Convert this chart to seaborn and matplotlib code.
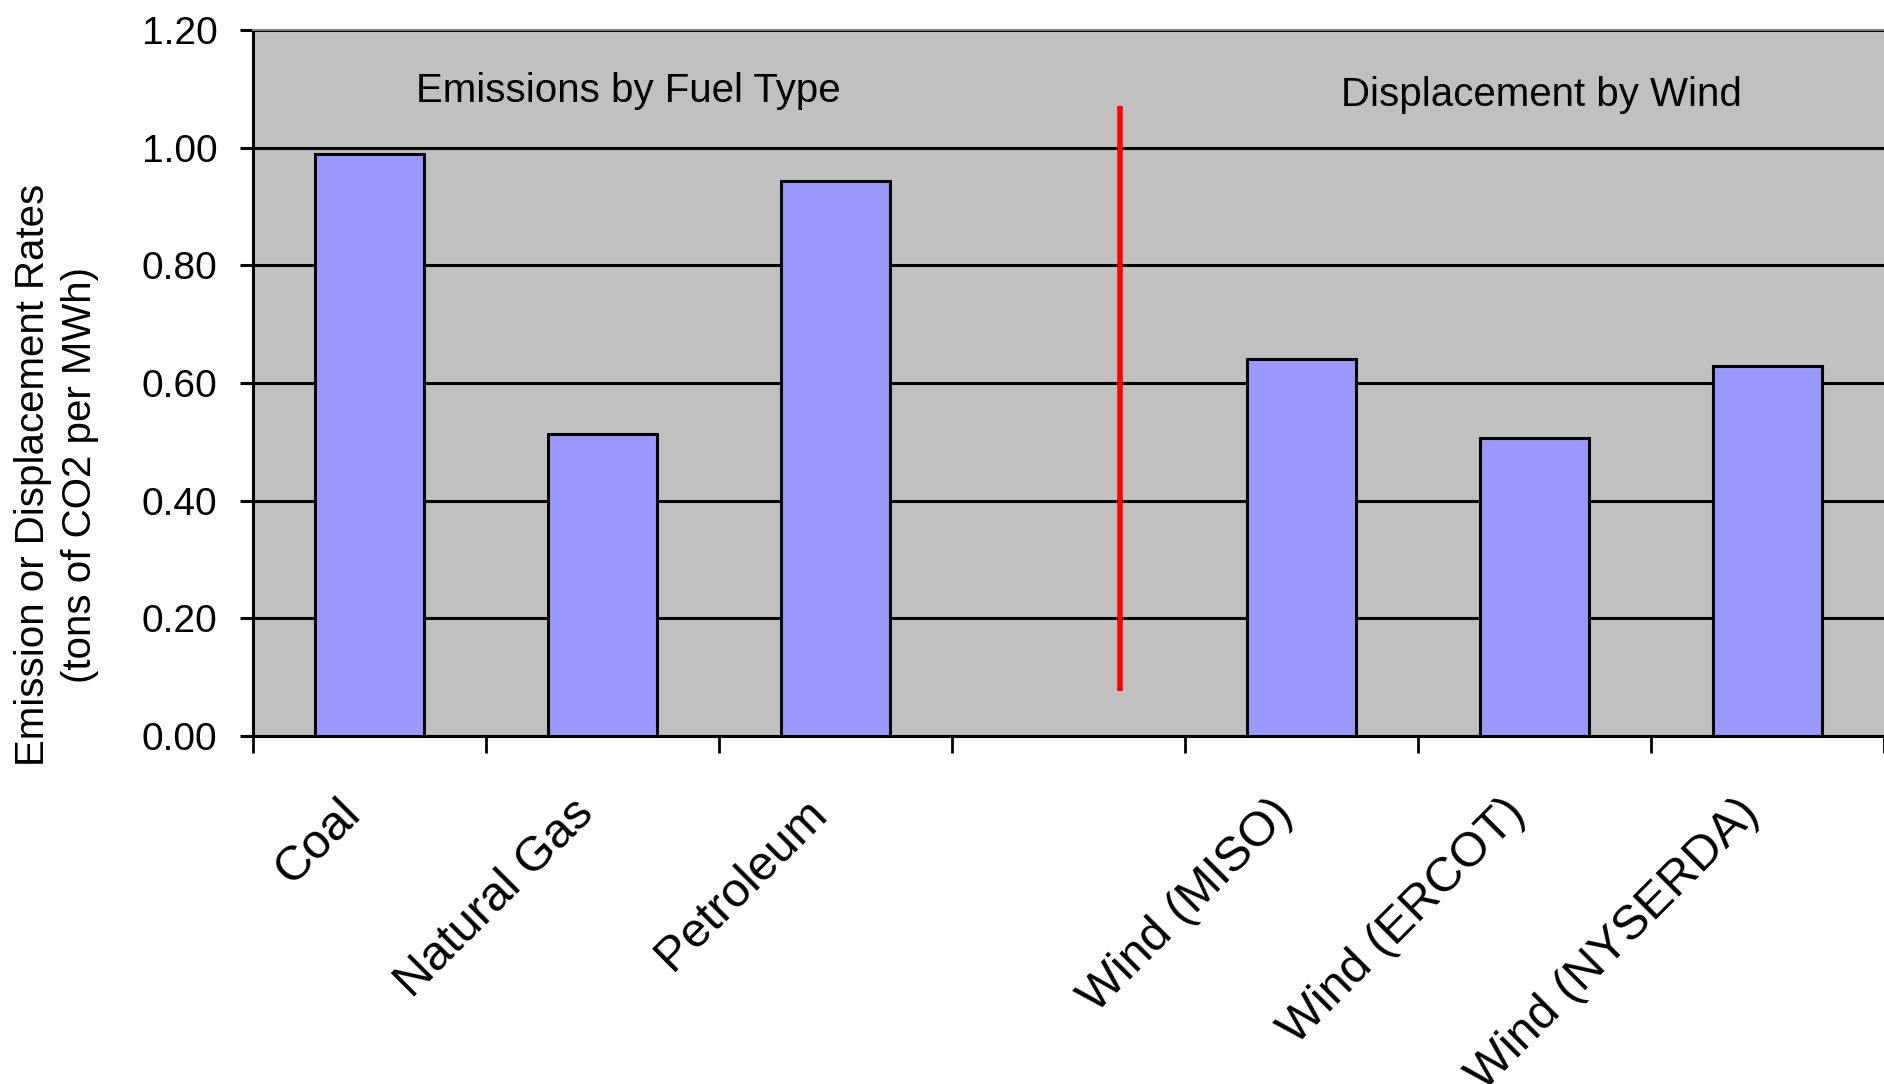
import matplotlib
matplotlib.use("Agg")
import matplotlib.pyplot as plt
import seaborn as sns
import pandas as pd
import numpy as np

# ── DATA ───────────────────────────────────────────────────────
CATEGORIES = ["Coal", "Natural Gas", "Petroleum", "",
              "Wind (MISO)", "Wind (ERCOT)", "Wind (NYSERDA)"]
SOURCES    = ["Coal", "Natural Gas", "Petroleum",
              "Wind (MISO)", "Wind (ERCOT)", "Wind (NYSERDA)"]
RATES      = [0.99, 0.513, 0.944, 0.640, 0.507, 0.629]
Y_TICKS    = [0.0, 0.2, 0.4, 0.6, 0.8, 1.0, 1.2]
GROUP_LABELS = ["Emissions by Fuel Type", "Displacement by Wind"]
Y_LABEL    = "Emission or Displacement Rates\n(tons of CO2 per MWh)"

# divider between the two groups (data units)
DIVIDER_X, DIVIDER_Y0, DIVIDER_Y1 = 3.22, 0.076, 1.07

# ── STYLE ──────────────────────────────────────────────────────
BAR = "#9999FF"; PANEL = "#C0C0C0"; FG = "black"
sns.set_theme(style="white")
plt.rcParams.update({
    "font.family": ["Liberation Sans", "DejaVu Sans"],
    "font.size": 28,
    "figure.facecolor": "white",
    "axes.facecolor": PANEL,
    "text.color": FG, "axes.labelcolor": FG,
    "xtick.color": FG, "ytick.color": FG,
})

W, H = 1884, 1084
fig = plt.figure(figsize=(W/100, H/100), dpi=100)
x0, top, bot = 253, 30, 736
ax = fig.add_axes([x0/W, 1-bot/H, (W-x0)/W, (bot-top)/H])

df = pd.DataFrame({"source": SOURCES, "rate": RATES})
sns.barplot(data=df, x="source", y="rate", order=CATEGORIES, color=BAR,
            saturation=1, width=0.47, edgecolor="black", linewidth=2.2,
            ax=ax, zorder=3)

ax.set_xlim(-0.5, -0.5 + (W-x0)/234)
ax.set_ylim(0, 1.2)
ax.set_yticks(Y_TICKS)
ax.set_yticklabels([f"{v:.2f}" for v in Y_TICKS])
ax.yaxis.grid(True, color="black", lw=2.2, zorder=1)
ax.set_axisbelow(True)

# category labels at centres, tick marks at boundaries
ax.set_xticks(range(len(CATEGORIES)))
ax.set_xticklabels(CATEGORIES, rotation=45, ha="right", va="bottom",
                   rotation_mode="anchor")
ax.set_xticks(np.arange(len(CATEGORIES)+1) - 0.5, minor=True)
ax.tick_params(axis="x", which="major", length=0, pad=62, labelsize=35)
ax.tick_params(axis="x", which="minor", direction="out", length=12,
               width=2, color="black", bottom=True)
ax.tick_params(axis="y", direction="out", length=9.5, width=2.2,
               color="black", pad=16, left=True, labelsize=28)
ax.set_xlabel(""); ax.set_ylabel("")

for s in ["left", "bottom"]:
    ax.spines[s].set_color("black"); ax.spines[s].set_linewidth(2.2)
ax.spines["top"].set_color("#808080"); ax.spines["top"].set_linewidth(1.5)
ax.spines["right"].set_visible(False)

ax.vlines(DIVIDER_X, DIVIDER_Y0, DIVIDER_Y1, color="#FF0000", lw=4, zorder=4)

ax.text(1.11, 1.097, GROUP_LABELS[0], ha="center", va="center", fontsize=29)
ax.text(5.03, 1.09, GROUP_LABELS[1], ha="center", va="center", fontsize=29)

fig.text(57/W, 1-475/H, Y_LABEL, rotation=90, ha="center", va="center",
         fontsize=29, linespacing=1.3, multialignment="center")

fig.savefig("out.png", dpi=100, facecolor="white")
